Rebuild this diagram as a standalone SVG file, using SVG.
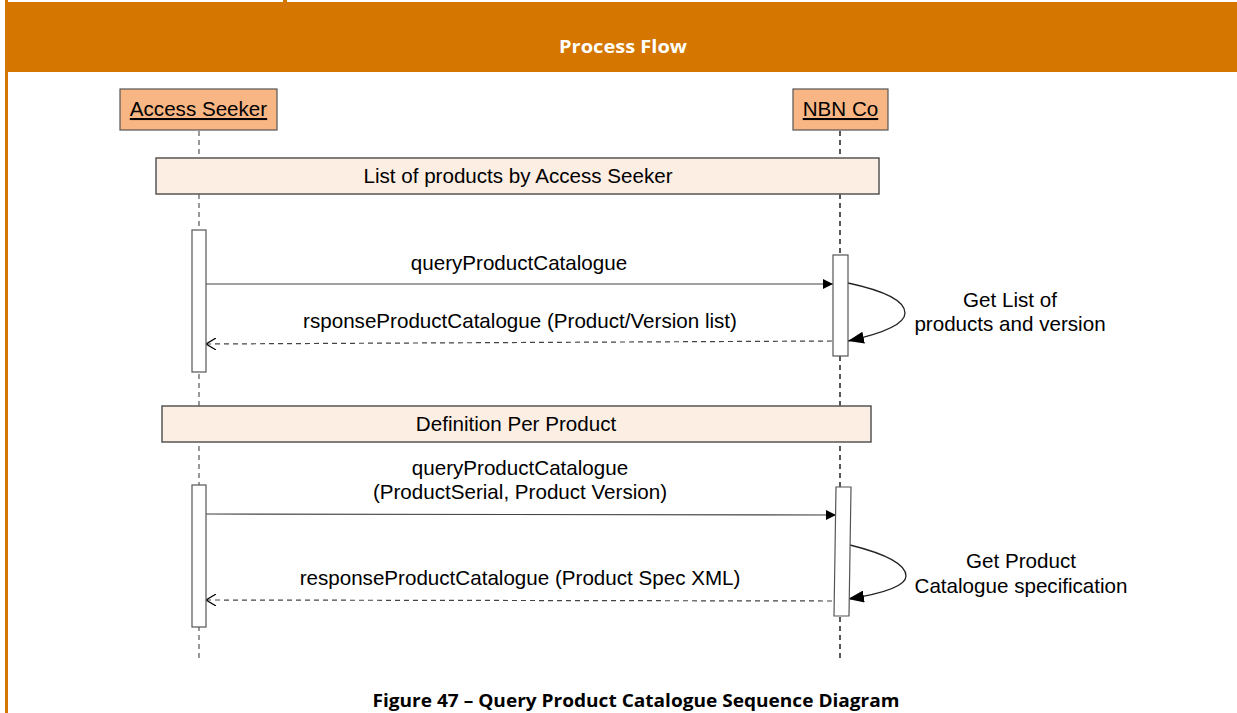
<svg xmlns="http://www.w3.org/2000/svg" width="1237" height="713" viewBox="0 0 1237 713">
<style>
.t{font-family:"Liberation Sans",Arial,sans-serif;font-size:20.6px;fill:#000;text-anchor:middle}
.u{text-decoration:underline}
.actor{fill:#F8B684;stroke:#555;stroke-width:1.2}
.frame{fill:#FDEEE3;stroke:#555;stroke-width:1.5}
.act{fill:#fff;stroke:#555;stroke-width:1.2}
.life{stroke:#777;stroke-width:1.5;stroke-dasharray:5 4;fill:none}
.msg{stroke:#444;stroke-width:1.2;fill:none}
.ret{stroke:#444;stroke-width:1.2;stroke-dasharray:5 4;fill:none}
.loop{stroke:#222;stroke-width:1.3;fill:none}
</style>
<defs>
<marker id="fill" viewBox="0 0 10 10" refX="10" refY="5" markerWidth="10" markerHeight="10" markerUnits="userSpaceOnUse" orient="auto">
<path d="M0,0 L10,5 L0,10 z" fill="#000"/>
</marker>
<marker id="big" viewBox="0 0 16 12" refX="16" refY="6" markerWidth="16" markerHeight="12" markerUnits="userSpaceOnUse" orient="auto">
<path d="M0,0 L16,6 L0,12 z" fill="#000"/>
</marker>
<marker id="open" viewBox="0 0 10 12" refX="0" refY="6" markerWidth="10" markerHeight="12" markerUnits="userSpaceOnUse" orient="auto">
<path d="M10,0 L0,6 L10,12" fill="none" stroke="#000" stroke-width="1.2"/>
</marker>
</defs>
<rect width="1237" height="713" fill="#fff"/>
<rect x="5" y="0" width="3" height="713" fill="#D47600"/>
<rect x="283" y="0" width="4" height="3" fill="#D47600"/>
<g id="header">
<rect x="5" y="2" width="1232" height="70" fill="#D47600"/>
<text x="623" y="53" style="font-family:'Open Sans','Liberation Sans',sans-serif;font-size:18px;font-weight:bold;fill:#fff;text-anchor:middle" textLength="128" lengthAdjust="spacingAndGlyphs">Process Flow</text>
</g>
<g id="connectors">
<line class="life" x1="199" y1="131" x2="199" y2="660"/>
<line class="life" x1="840" y1="131" x2="840" y2="660" style="stroke:#222"/>
<line class="msg" x1="206" y1="284" x2="833" y2="284" marker-end="url(#fill)"/>
<line class="ret" x1="206" y1="344" x2="833" y2="341" marker-start="url(#open)"/>
<path class="loop" d="M848,283 C890,292 905,303 905,313 C905,325 880,334 848,341" marker-end="url(#big)"/>
<line class="msg" x1="206" y1="514" x2="836" y2="515" marker-end="url(#fill)"/>
<line class="ret" x1="206" y1="600" x2="834" y2="601" marker-start="url(#open)"/>
<path class="loop" d="M850,545 C890,555 906,566 906,576 C906,587 880,594 848,599" marker-end="url(#big)"/>
</g>
<g id="access-seeker">
<rect class="actor" x="120" y="89" width="157" height="41"/>
<text class="t u" x="198.5" y="116">Access Seeker</text>
</g>
<g id="nbn-co">
<rect class="actor" x="793" y="89" width="95" height="41"/>
<text class="t u" x="840.5" y="116">NBN Co</text>
</g>
<g id="frame-list">
<rect class="frame" x="156" y="158" width="723" height="36"/>
<text class="t" x="518" y="183">List of products by Access Seeker</text>
</g>
<g id="frame-definition">
<rect class="frame" x="162" y="406" width="709" height="36"/>
<text class="t" x="516" y="431">Definition Per Product</text>
</g>
<g id="as-activation-1"><rect class="act" x="192" y="230" width="14" height="142"/></g>
<g id="nbn-activation-1"><rect class="act" x="833" y="255" width="15" height="101"/></g>
<g id="as-activation-2"><rect class="act" x="192" y="485" width="14" height="142"/></g>
<g id="nbn-activation-2"><polygon class="act" points="836,487 851,487 849,616 834,616"/></g>
<g id="labels">
<text class="t" x="519" y="270">queryProductCatalogue</text>
<text class="t" x="520" y="328">rsponseProductCatalogue (Product/Version list)</text>
<text class="t" x="1010" y="307">Get List of</text>
<text class="t" x="1010" y="331">products and version</text>
<text class="t" x="520" y="475">queryProductCatalogue</text>
<text class="t" x="520" y="499">(ProductSerial, Product Version)</text>
<text class="t" x="520" y="585">responseProductCatalogue (Product Spec XML)</text>
<text class="t" x="1021" y="568">Get Product</text>
<text class="t" x="1021" y="593">Catalogue specification</text>
</g>
<text x="636" y="707" style="font-family:'Open Sans','Liberation Sans',sans-serif;font-size:18px;font-weight:bold;fill:#000;text-anchor:middle" textLength="527" lengthAdjust="spacingAndGlyphs">Figure 47 – Query Product Catalogue Sequence Diagram</text>
</svg>
